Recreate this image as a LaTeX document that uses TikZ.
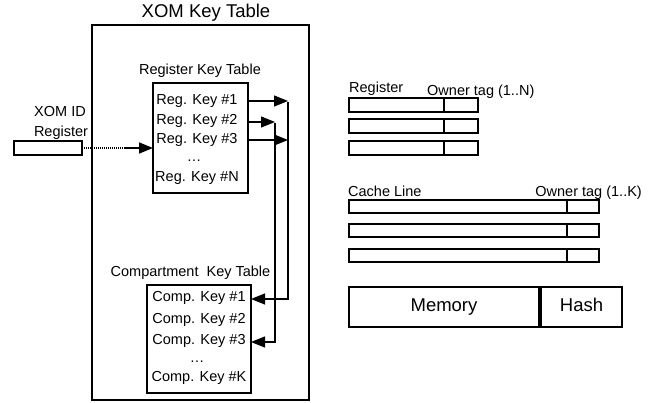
\documentclass[tikz,border=0pt]{standalone}
\usepackage{fontspec}
\setmainfont{Liberation Sans}
\usetikzlibrary{arrows.meta}
\begin{document}
\begin{tikzpicture}[x=1pt,y=-1pt,
  box/.style={draw, line width=1.1pt, inner sep=0pt, outer sep=0pt},
  lbl/.style={font=\fontsize{14.5}{16}\selectfont, inner sep=0pt, text height=10.5pt, text depth=3pt},
  big/.style={font=\fontsize{18.5}{20}\selectfont, inner sep=0pt, text height=13.5pt, text depth=4pt},
  arr/.style={-{Triangle[length=14pt,width=11pt]}, line width=1.2pt},
  wire/.style={line width=1.2pt}]
\useasboundingbox (0,0) rectangle (656,403);

% outer XOM key table
\node[box, minimum width=217pt, minimum height=375pt] (xom) at (200.5,212.5) {};
\node[big] (title) at (206,13) {XOM Key Table};

% register key table
\node[lbl] (rkt) at (200,71) {Register Key Table};
\node[box, minimum width=95pt, minimum height=110pt] (regbox) at (200.5,138) {};
\node[lbl] (r1) at (197,101) {Reg. Key \#1};
\node[lbl] (r2) at (197,121) {Reg. Key \#2};
\node[lbl] (r3) at (197,140) {Reg. Key \#3};
\node[lbl] (rd) at (194,158) {\dots};
\node[lbl] (rn) at (197,178) {Reg. Key \#N};

% compartment key table
\node[lbl] (ckt) at (190.5,273) {Compartment\ \ Key Table};
\node[box, minimum width=104pt, minimum height=108pt] (compbox) at (199,339) {};
\node[lbl] (c1) at (199,298) {Comp. Key \#1};
\node[lbl] (c2) at (199,320) {Comp. Key \#2};
\node[lbl] (c3) at (199,341) {Comp. Key \#3};
\node[lbl] (cd) at (197,359) {\dots};
\node[lbl] (ck) at (199,378) {Comp. Key \#K};

% junction coordinates
\coordinate (j1) at (288,101);
\coordinate (j2) at (275,122);
\coordinate (j3) at (288,140);
\coordinate (k1) at (288,299);
\coordinate (k3) at (275,342);

\draw[arr] (regbox.east |- j1) -- (j1);
\draw[arr] (regbox.east |- j2) -- (j2);
\draw[arr] (regbox.east |- j3) -- (j3);
\draw[wire] ([yshift=-0.6pt]j1) -- ([yshift=0.6pt]k1) -- (k1);
\draw[wire] ([yshift=-0.6pt]j2) -- ([yshift=0.6pt]k3) -- (k3);
\draw[arr] ([xshift=0.6pt]k1) -- (compbox.east |- k1);
\draw[arr] ([xshift=0.6pt]k3) -- (compbox.east |- k3);

% XOM ID register
\node[lbl] (xomid) at (60,113) {XOM ID};
\node[lbl] (xomreg) at (61,133) {Register};
\node[box, minimum width=68pt, minimum height=14pt] (idreg) at (48,148) {};
\coordinate (dotend) at (125,148);
\draw[line width=2pt, dash pattern=on 1.2pt off 0.8pt] (idreg.east) -- (dotend);
\draw[arr, line width=1.6pt] (dotend) -- (regbox.west |- dotend);

% registers with owner tag
\node[lbl, anchor=west] (reglbl) at (349,89) {Register};
\node[lbl, anchor=west] (ownN) at (427,92) {Owner tag (1..N)};
\foreach \i/\y in {1/105,2/126,3/148}{
  \node[box, minimum width=95pt, minimum height=14pt, anchor=west] (rm\i) at (349,\y) {};
  \node[box, minimum width=34pt, minimum height=14pt, anchor=west] (rt\i) at (rm\i.east) {};
}

% cache lines with owner tag
\node[lbl, anchor=west] (cachelbl) at (348,193) {Cache Line};
\node[lbl, anchor=east] (ownK) at (642,193) {Owner tag (1..K)};
\foreach \i/\y in {1/206.5,2/230.5,3/255.5}{
  \node[box, minimum width=218pt, minimum height=13pt, anchor=west] (cm\i) at (349,\y) {};
  \node[box, minimum width=32pt, minimum height=13pt, anchor=west] (ct\i) at (cm\i.east) {};
}

% memory and hash
\node[box, big, minimum width=190pt, minimum height=40pt] (mem) at (444,307) {Memory};
\node[box, big, minimum width=81pt, minimum height=40pt] (hash) at (581.5,307) {Hash};
\end{tikzpicture}
\end{document}
